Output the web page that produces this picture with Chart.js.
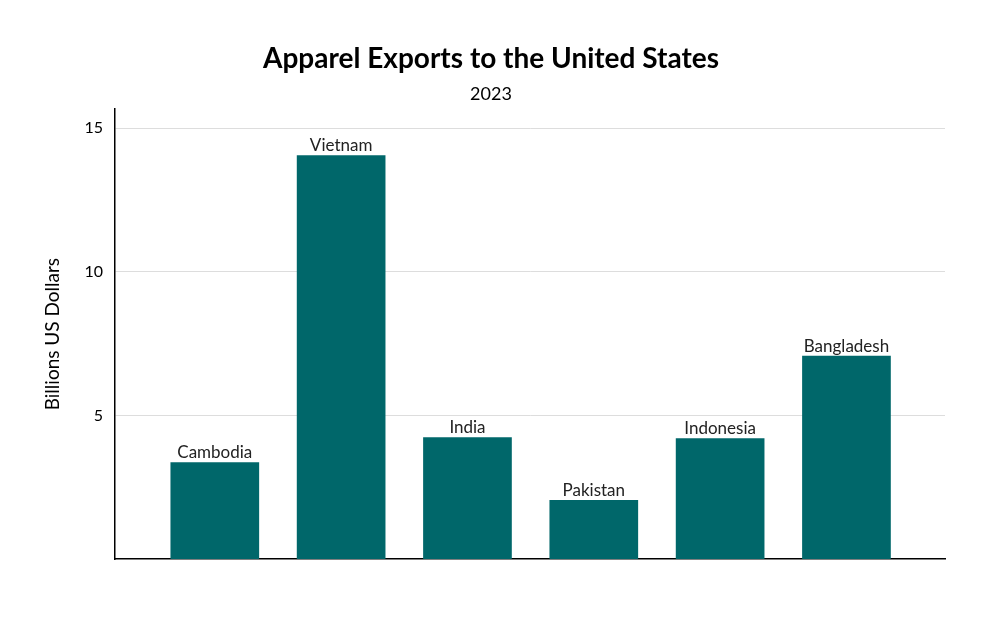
<!DOCTYPE html>
<html><head><meta charset="utf-8">
<script src="https://cdn.jsdelivr.net/npm/chart.js@4"></script>
<style>html,body{margin:0;padding:0;background:#fff}#w{width:1000px;height:625px}</style>
</head><body><div id="w"><canvas id="c"></canvas></div>
<script>
const categories = ["Cambodia","Vietnam","India","Pakistan","Indonesia","Bangladesh"];
const values = [3.37, 14.06, 4.24, 2.05, 4.20, 7.08];
const yTicks = [5, 10, 15];

const labelPlugin = {
  id: 'barLabels',
  afterDatasetsDraw(chart) {
    const ctx = chart.ctx;
    const meta = chart.getDatasetMeta(0);
    ctx.save();
    ctx.font = '17px Lato';
    ctx.fillStyle = '#222';
    ctx.textAlign = 'center';
    ctx.textBaseline = 'bottom';
    meta.data.forEach((b, i) => ctx.fillText(categories[i], b.x, b.y - 1));
    ctx.restore();
  }
};

new Chart(document.getElementById('c'), {
  type: 'bar',
  data: { datasets: [{
    data: values.map((v, i) => ({x: i, y: v})),
    backgroundColor: '#00676a',
    barPercentage: 0.9, categoryPercentage: 1.0
  }]},
  options: {
    responsive: true, maintainAspectRatio: false, animation: false,
    layout: { padding: { left: 37, right: 55, bottom: 0 } },
    plugins: {
      legend: { display: false }, tooltip: { enabled: false },
      title: { display: true, text: 'Apparel Exports to the United States', color: '#000',
        font: { family: 'Lato', size: 28, weight: 'bold' }, padding: { top: 42, bottom: 8 } },
      subtitle: { display: true, text: '2023', color: '#000',
        font: { family: 'Lato', size: 18 }, padding: { bottom: 4 } }
    },
    scales: {
      x: { type: 'linear', min: -0.79, max: 5.78, offset: false,
        grid: { display: false }, border: { color: '#000', width: 1.5 },
        ticks: { display: false },
        afterFit: s => { s.height = 66; } },
      y: { min: 0, max: 15.66,
        afterBuildTicks: s => { s.ticks = yTicks.map(v => ({value: v})); },
        grid: { color: '#dddddd', drawTicks: false },
        border: { color: '#000', width: 1.5 },
        ticks: { color: '#000', font: { family: 'Lato', size: 16 }, padding: 12 },
        title: { display: true, text: 'Billions US Dollars', color: '#000',
          font: { family: 'Lato', size: 19 } },
        afterFit: s => { s.width = 78; } }
    }
  },
  plugins: [labelPlugin]
});
</script></body></html>
